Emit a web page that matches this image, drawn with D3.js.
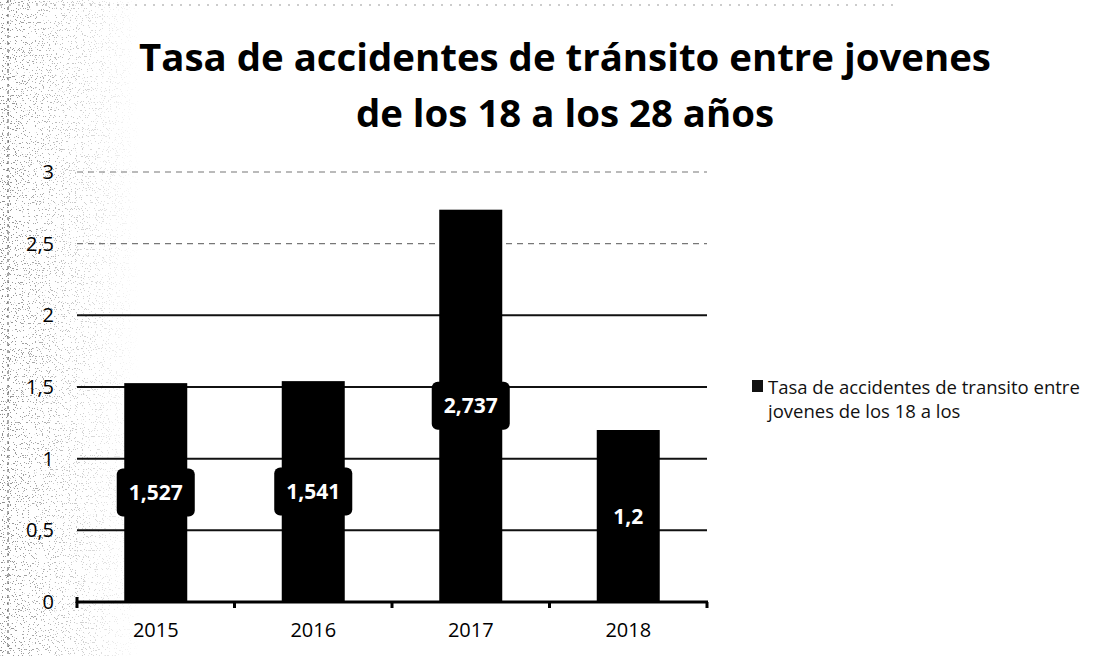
<!DOCTYPE html>
<html>
<head>
<meta charset="utf-8">
<script src="https://cdn.jsdelivr.net/npm/d3@7"></script>
<style>
  html, body { margin: 0; padding: 0; background: #fff; }
  svg { display: block; }
</style>
</head>
<body>
<svg id="chart" width="1107" height="656"></svg>
<script>
// Data
const years = ["2015", "2016", "2017", "2018"];
const rates = [1.527, 1.541, 2.737, 1.2];
const rateLabels = ["1,527", "1,541", "2,737", "1,2"];
const yTicks = [0, 0.5, 1, 1.5, 2, 2.5, 3];
const yTickLabels = ["0", "0,5", "1", "1,5", "2", "2,5", "3"];
const titleLines = ["Tasa de accidentes de tránsito entre jovenes", "de los 18 a los 28 años"];
const legendLines = ["Tasa de accidentes de transito entre", "jovenes de los 18 a los"];

const W = 1107, H = 656;
const svg = d3.select("#chart");
const FONT = "'Open Sans', 'Noto Sans', sans-serif";

// Scanned-paper grain along the left edge
const defs = svg.append("defs");
const grain = defs.append("filter").attr("id", "grain").attr("x", 0).attr("y", 0).attr("width", 1).attr("height", 1);
grain.append("feTurbulence").attr("type", "fractalNoise").attr("baseFrequency", 0.85).attr("numOctaves", 1).attr("seed", 7).attr("result", "n");
grain.append("feColorMatrix").attr("in", "n").attr("type", "matrix")
  .attr("values", "0 0 0 0 0  0 0 0 0 0  0 0 0 0 0  -40 0 0 0 14.6");
const fade = defs.append("linearGradient").attr("id", "fade").attr("x1", 0).attr("x2", 1).attr("y1", 0).attr("y2", 0);
fade.append("stop").attr("offset", 0).attr("stop-color", "#fff").attr("stop-opacity", 1);
fade.append("stop").attr("offset", 1).attr("stop-color", "#fff").attr("stop-opacity", 0);
const mask = defs.append("mask").attr("id", "grainMask");
mask.append("rect").attr("x", 0).attr("y", 0).attr("width", 140).attr("height", H).attr("fill", "url(#fade)");

svg.append("rect").attr("width", W).attr("height", H).attr("fill", "#fff");
svg.append("g").attr("mask", "url(#grainMask)")
  .append("rect").attr("x", 0).attr("y", 0).attr("width", 140).attr("height", H)
  .attr("filter", "url(#grain)").attr("opacity", 0.45);
// frame edges of the sheet
svg.append("line").attr("x1", 8).attr("x2", 8).attr("y1", 0).attr("y2", H)
  .attr("stroke", "#555").attr("stroke-width", 1).attr("stroke-dasharray", "3 4");
svg.append("line").attr("x1", 0).attr("x2", 900).attr("y1", 5).attr("y2", 5)
  .attr("stroke", "#999").attr("stroke-width", 1).attr("stroke-dasharray", "2 7");

// Scales
const x = d3.scaleBand().domain(years).range([77, 707]).paddingInner(0.6).paddingOuter(0.3);
const y = d3.scaleLinear().domain([0, 3]).range([602, 172]);

// Title
const title = svg.append("text")
  .attr("text-anchor", "middle")
  .attr("font-family", FONT)
  .attr("font-weight", 700)
  .attr("font-size", 38.4)
  .attr("fill", "#000");
title.selectAll("tspan").data(titleLines).join("tspan")
  .attr("x", 565)
  .attr("y", (d, i) => 71 + i * 56)
  .text(d => d);

// Gridlines
svg.append("g")
  .selectAll("line")
  .data(yTicks.filter(t => t > 0))
  .join("line")
  .attr("x1", 77).attr("x2", 707)
  .attr("y1", d => y(d)).attr("y2", d => y(d))
  .attr("stroke", d => d > 2 ? "#777" : "#111")
  .attr("stroke-width", d => d > 2 ? 1.2 : 2)
  .attr("stroke-dasharray", d => d > 2 ? "6 5" : null);

// Y axis labels
const yAxis = d3.axisLeft(y).tickValues(yTicks).tickSize(0).tickPadding(0)
  .tickFormat((d, i) => yTickLabels[i]);
const gy = svg.append("g").attr("transform", "translate(54,0)").call(yAxis);
gy.select(".domain").remove();
gy.selectAll("text").attr("font-family", FONT).attr("font-size", 20).attr("fill", "#000");

// Bars
svg.append("g")
  .selectAll("rect")
  .data(rates)
  .join("rect")
  .attr("x", (d, i) => x(years[i]))
  .attr("width", x.bandwidth())
  .attr("y", d => y(d))
  .attr("height", d => y(0) - y(d))
  .attr("fill", "#000");

// X axis line with category ticks
const xAxis = d3.axisBottom(x).tickSize(0).tickPadding(0);
const gx = svg.append("g").attr("transform", "translate(0,602)");
gx.append("line").attr("x1", 76).attr("x2", 708).attr("y1", 0).attr("y2", 0)
  .attr("stroke", "#000").attr("stroke-width", 3);
const bounds = years.map(d => x(d) - x.step() * x.paddingInner() / 2).concat([707]);
bounds[0] = 77;
gx.selectAll("line.tick").data(bounds).join("line").attr("class", "tick")
  .attr("x1", d => d).attr("x2", d => d).attr("y1", 0).attr("y2", 6)
  .attr("stroke", "#000").attr("stroke-width", 3);
gx.append("line").attr("x1", 77).attr("x2", 77).attr("y1", 1).attr("y2", -5)
  .attr("stroke", "#000").attr("stroke-width", 3);
const gxl = svg.append("g").attr("transform", "translate(0,602)").call(xAxis);
gxl.select(".domain").remove();
gxl.selectAll("text").attr("dy", null).attr("y", 35)
  .attr("font-family", FONT).attr("font-size", 20).attr("fill", "#000");

// Value labels on bars
const lab = svg.append("g").selectAll("g").data(rates).join("g")
  .attr("transform", (d, i) => `translate(${x(years[i]) + x.bandwidth() / 2},${(y(d) + y(0)) / 2})`);
const labText = lab.append("text")
  .attr("text-anchor", "middle")
  .attr("dy", "0.36em")
  .attr("font-family", FONT)
  .attr("font-weight", 700)
  .attr("font-size", 21)
  .attr("fill", "#fff")
  .text((d, i) => rateLabels[i]);
labText.each(function () {
  const w = this.getComputedTextLength();
  d3.select(this.parentNode).insert("rect", "text")
    .attr("x", -w / 2 - 12).attr("y", -24)
    .attr("width", w + 24).attr("height", 48)
    .attr("rx", 6).attr("fill", "#000");
});

// Legend
const leg = svg.append("g").attr("transform", "translate(752,379)");
leg.append("rect").attr("x", 0).attr("y", 1).attr("width", 11).attr("height", 12).attr("fill", "#111");
leg.append("text")
  .attr("font-family", FONT).attr("font-size", 18.5).attr("fill", "#111")
  .selectAll("tspan").data(legendLines).join("tspan")
  .attr("x", 16).attr("y", (d, i) => 15 + i * 24)
  .text(d => d);
</script>
</body>
</html>
